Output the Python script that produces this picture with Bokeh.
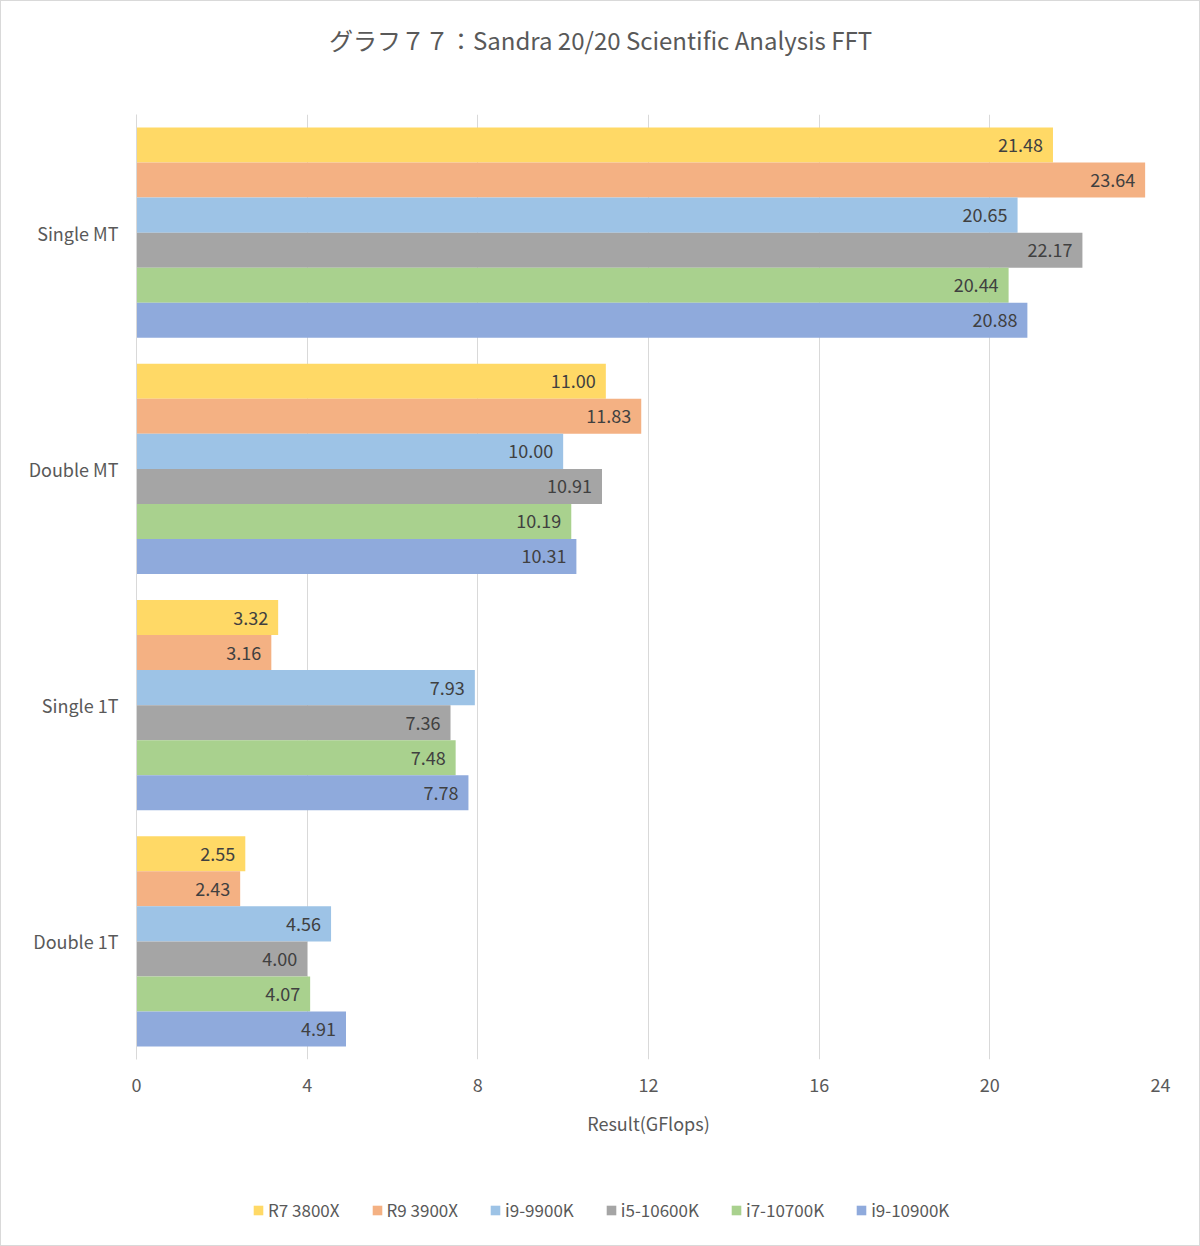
from bokeh.plotting import figure
from bokeh.models import ColumnDataSource, Legend, LegendItem, FixedTicker, Range1d, Label
from bokeh.layouts import column
from bokeh.embed import file_html
from bokeh.resources import INLINE
from bokeh.core.properties import value

categories = ["Single MT", "Double MT", "Single 1T", "Double 1T"]
series = ["R7 3800X", "R9 3900X", "i9-9900K", "i5-10600K", "i7-10700K", "i9-10900K"]
colors = ["#FFD966", "#F4B183", "#9DC3E6", "#A5A5A5", "#A9D18E", "#8FAADC"]
values = {
    "R7 3800X":  [21.48, 11.00, 3.32, 2.55],
    "R9 3900X":  [23.64, 11.83, 3.16, 2.43],
    "i9-9900K":  [20.65, 10.00, 7.93, 4.56],
    "i5-10600K": [22.17, 10.91, 7.36, 4.00],
    "i7-10700K": [20.44, 10.19, 7.48, 4.07],
    "i9-10900K": [20.88, 10.31, 7.78, 4.91],
}
x_ticks = [0, 4, 8, 12, 16, 20, 24]
title_text = "グラフ７７：Sandra 20/20 Scientific Analysis FFT"

FONT = "Noto Sans CJK JP"
TXT = "#595959"
W = 1198
LEFT = 135


def blank(height):
    f = figure(width=W, height=height, output_backend="svg", toolbar_location=None,
               x_range=Range1d(0, 1), y_range=Range1d(0, 1),
               x_axis_location=None, y_axis_location=None, min_border=0)
    f.outline_line_color = None
    f.grid.grid_line_color = None
    f.border_fill_color = "white"
    return f


# ---- title ----
pt = blank(79)
pt.add_layout(Label(x=W / 2 - LEFT, y=41, x_units="screen", y_units="screen", text=title_text,
                    text_align="center", text_baseline="middle", text_font=FONT,
                    text_font_size="24px", text_color=TXT))

# ---- main chart ----
p = figure(width=W, height=1100, output_backend="svg", toolbar_location=None,
           x_range=Range1d(0, 24), y_range=Range1d(-0.5, 3.5),
           min_border_left=LEFT, min_border_right=39, min_border_top=34,
           min_border_bottom=121)
p.outline_line_color = None
p.background_fill_color = "white"
p.border_fill_color = "white"

n = len(series)
group = 0.89
h = group / n
cat_pos = {c: len(categories) - 1 - i for i, c in enumerate(categories)}

for i, s in enumerate(series):
    ys = [cat_pos[c] + (n / 2 - 0.5 - i) * h for c in categories]
    src = ColumnDataSource(dict(y=ys, v=values[s], lab=["%.2f" % v for v in values[s]]))
    p.hbar(y="y", right="v", left=0, height=h, source=src, fill_color=colors[i], line_color=None)
    p.text(x="v", y="y", text="lab", source=src, x_offset=-10, text_align="right",
           text_baseline="middle", text_font=value(FONT), text_font_size="18px", text_color="#404040")

p.xaxis.ticker = FixedTicker(ticks=x_ticks)
p.xaxis.axis_line_color = None
p.xaxis.major_tick_line_color = None
p.xaxis.minor_tick_line_color = None
p.xaxis.major_label_text_font = FONT
p.xaxis.major_label_text_font_size = "18px"
p.xaxis.major_label_text_color = TXT
p.xaxis.major_label_standoff = 12
p.xaxis.axis_label = "Result(GFlops)"
p.xaxis.axis_label_text_font = FONT
p.xaxis.axis_label_text_font_size = "18px"
p.xaxis.axis_label_text_font_style = "normal"
p.xaxis.axis_label_text_color = TXT
p.xaxis.axis_label_standoff = 15

p.yaxis.ticker = FixedTicker(ticks=[cat_pos[c] for c in categories])
p.yaxis.major_label_overrides = {cat_pos[c]: c for c in categories}
p.yaxis.axis_line_color = "#D9D9D9"
p.yaxis.major_tick_line_color = None
p.yaxis.minor_tick_line_color = None
p.yaxis.major_label_text_font = FONT
p.yaxis.major_label_text_font_size = "18px"
p.yaxis.major_label_text_color = TXT
p.yaxis.major_label_standoff = 12

p.xgrid.ticker = FixedTicker(ticks=x_ticks)
p.xgrid.grid_line_color = "#D9D9D9"
p.ygrid.grid_line_color = None

# ---- legend ----
pl = blank(65)
items = []
for i, s in enumerate(series):
    r = pl.hbar(y=[float("nan")], right=[float("nan")], left=0, height=0.5,
                fill_color=colors[i], line_color=None)
    items.append(LegendItem(label=s, renderers=[r]))
legend = Legend(items=items, orientation="horizontal", location=(251 - LEFT, 23),
                label_text_font=FONT, label_text_font_size="17px", label_text_color=TXT,
                glyph_width=12, glyph_height=12, label_standoff=4, spacing=31,
                border_line_color=None, background_fill_alpha=0, margin=0, padding=0)
pl.add_layout(legend, "center")

layout = column(pt, p, pl, spacing=0)
layout.styles = {"border": "1px solid #D9D9D9"}

open("out.html", "w").write(file_html(layout, INLINE))
